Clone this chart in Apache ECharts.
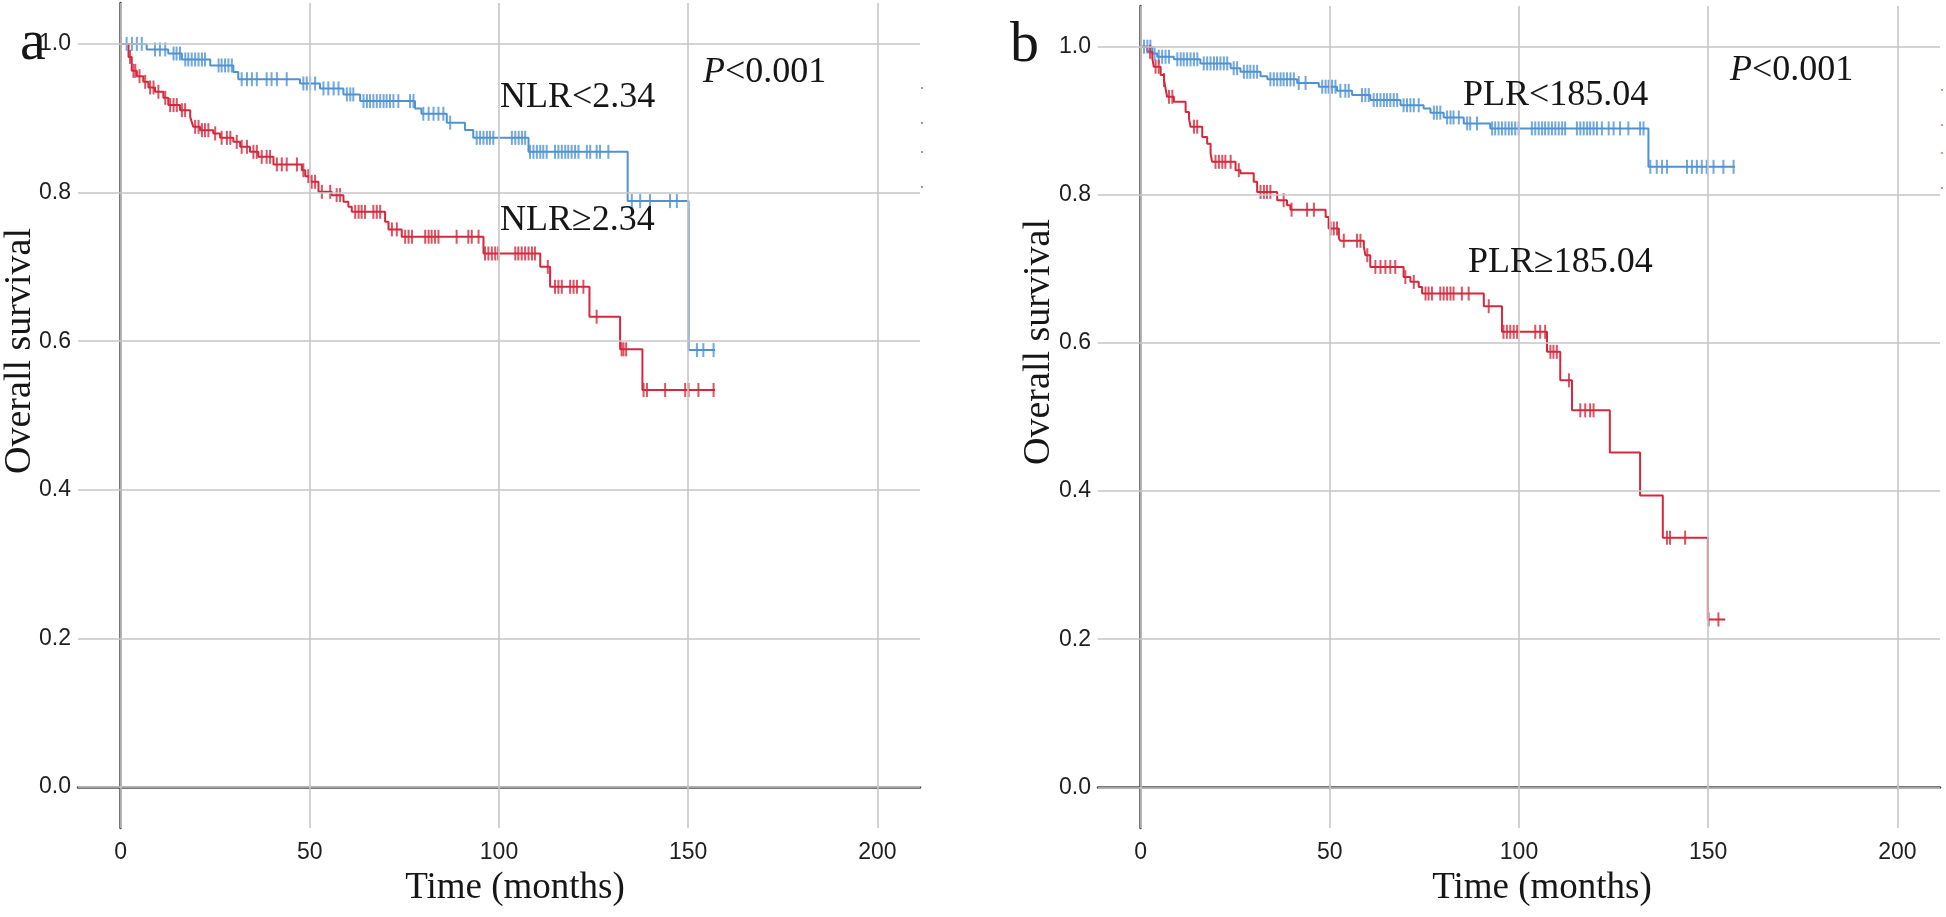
<!DOCTYPE html>
<html><head><meta charset="utf-8">
<script src="https://cdn.jsdelivr.net/npm/echarts@6/dist/echarts.min.js"></script>
<style>html,body{margin:0;padding:0;background:#fff}#c{width:1946px;height:917px}</style>
</head><body><div id="c"></div>
<script>
// ---- tick labels ----
const xTicks = [0, 50, 100, 150, 200];
const yTicks = [0, 0.2, 0.4, 0.6, 0.8, 1.0];

// ---- panel a: NLR < 2.34 (blue) ----
const nlrLowSteps = [[0,1.0],[6.9,0.9925],[12.6,0.987],[16.2,0.979],[23.7,0.971],[29.8,0.962],[31.1,0.9525],[47.4,0.9467],[52.7,0.940],[58.9,0.932],[63.3,0.923],[77.8,0.913],[79.5,0.906],[86.2,0.894],[91.0,0.884],[93.2,0.8736],[107.8,0.8548],[134.0,0.7885],[150.1,0.588],[157.1,0.588]];
const nlrLowCensor = [1.6,3.0,4.3,5.6,9.1,10.4,11.8,14.0,14.8,15.7,17.1,17.9,18.8,19.7,20.6,21.5,22.3,25.9,26.7,27.6,28.5,29.4,32.0,33.4,34.7,36.0,38.6,39.9,41.3,43.9,48.3,49.2,50.1,51.4,53.6,54.9,56.3,57.6,59.8,60.7,61.5,64.2,65.1,65.9,66.8,67.7,68.6,69.5,70.3,71.2,72.1,73.4,76.5,77.4,80.0,81.4,82.7,84.0,85.3,87.1,94.1,95.0,95.9,96.8,97.6,98.5,103.4,104.3,105.2,106.1,106.9,108.2,109.1,110.0,110.9,111.7,112.6,114.8,115.7,116.6,117.5,118.3,119.2,120.1,121.0,123.2,124.1,125.8,126.7,128.9,135.1,137.3,139.9,145.2,147.0,152.3,154.0,156.7];

// ---- panel a: NLR >= 2.34 (red) ----
const nlrHighSteps = [[0,1.0],[2.1,0.9825],[2.95,0.9637],[4.3,0.9566],[6.0,0.9489],[7.35,0.9414],[9.1,0.9355],[11.3,0.9274],[12.6,0.9176],[15.7,0.9108],[18.4,0.9018],[18.8,0.8951],[19.2,0.8884],[21.0,0.8839],[24.5,0.8795],[26.3,0.8736],[29.8,0.8682],[31.6,0.8615],[34.2,0.8548],[36.4,0.848],[40.4,0.8378],[47.9,0.830],[48.8,0.822],[50.1,0.8144],[52.3,0.801],[55.8,0.7965],[58.9,0.7875],[60.2,0.7808],[61.1,0.774],[69.9,0.7606],[70.8,0.7504],[74.3,0.7405],[95.9,0.718],[110.9,0.700],[113.5,0.6732],[123.9,0.6329],[132.0,0.589],[137.9,0.5343],[157.1,0.5343]];
const nlrHighCensor = [2.5,3.4,3.9,5.0,6.5,7.8,8.7,10.0,11.8,13.1,14.0,14.85,16.2,17.05,19.7,20.6,21.5,22.3,23.2,25.0,26.7,28.1,29.0,30.7,32.0,33.4,35.1,36.0,37.3,38.6,39.5,41.3,42.6,43.9,46.6,48.3,49.6,50.5,51.4,53.2,55.4,57.1,58.0,62.0,62.9,63.7,64.6,66.8,67.7,68.6,71.7,73.0,75.2,76.1,77.0,80.5,81.4,82.2,83.1,84.0,88.8,91.9,92.8,94.6,96.3,97.2,98.1,99.0,99.8,104.3,105.1,106.0,106.9,107.8,108.7,109.5,112.9,114.8,115.7,116.6,118.8,119.7,120.6,122.3,125.8,132.4,132.9,133.6,138.2,139.1,143.9,149.2,150.1,152.7,156.7];

// ---- panel b: PLR < 185.04 (blue) ----
const plrLowSteps = [[0,1.0],[3.1,0.991],[4.4,0.9865],[8.8,0.983],[15.8,0.9775],[23.8,0.971],[26.4,0.9662],[31.7,0.960],[33.5,0.956],[41.4,0.951],[47.1,0.946],[51.9,0.9405],[55.9,0.9347],[60.7,0.928],[68.7,0.921],[74.8,0.9167],[76.6,0.911],[80.1,0.9045],[85.4,0.8964],[92.4,0.8897],[134.2,0.8378],[157.1,0.8378]];
const plrLowCensor = [0.9,1.8,2.6,3.7,4.8,5.7,6.6,7.5,9.7,10.6,11.4,12.3,13.2,14.1,15.0,16.7,17.6,18.5,19.4,20.2,21.1,22.0,22.9,24.6,25.5,27.3,28.2,29.0,29.9,30.8,34.3,35.2,36.1,37.0,37.8,38.7,39.6,40.5,41.8,43.6,48.0,48.9,49.7,50.6,51.5,52.8,54.1,55.0,58.5,59.4,60.3,61.6,62.5,63.4,64.3,65.1,66.0,66.9,67.8,69.5,70.4,71.3,72.2,73.5,77.5,78.3,79.2,81.0,81.9,82.7,84.1,86.3,87.1,88.9,92.9,93.7,94.6,95.5,96.4,97.3,98.1,99.0,99.9,103.4,104.3,105.2,106.1,106.9,107.8,108.7,109.6,110.5,111.4,112.2,115.3,116.2,117.1,118.0,118.8,119.7,120.6,121.9,123.7,125.0,126.7,128.9,132.0,132.9,134.7,136.4,137.8,139.1,144.4,145.7,147.0,148.3,149.6,151.4,154.0,156.7];

// ---- panel b: PLR >= 185.04 (red) ----
const plrHighSteps = [[0,1.0],[1.8,0.9932],[3.1,0.9843],[3.5,0.973],[5.3,0.9617],[6.2,0.955],[6.6,0.9437],[7.0,0.9324],[8.8,0.9257],[11.9,0.912],[12.8,0.903],[13.2,0.892],[16.3,0.878],[17.6,0.869],[18.5,0.856],[18.9,0.8446],[25.1,0.8333],[26.4,0.829],[29.9,0.8176],[30.8,0.804],[36.1,0.7928],[38.7,0.786],[39.6,0.780],[48.9,0.770],[49.7,0.7546],[52.4,0.741],[52.8,0.738],[59.0,0.730],[59.4,0.7185],[60.7,0.7027],[69.5,0.689],[71.3,0.6825],[73.5,0.6757],[74.4,0.6667],[90.7,0.6496],[95.5,0.615],[107.4,0.588],[110.9,0.5496],[114.0,0.509],[124.0,0.452],[132.0,0.394],[138.0,0.337],[149.9,0.2266],[154.5,0.2266]];
const plrHighCensor = [2.5,3.96,4.8,6.2,7.5,8.4,14.1,14.96,19.8,20.7,21.6,22.4,23.8,25.96,31.7,32.6,33.4,34.3,37.8,39.9,44.0,45.8,50.2,51.05,51.9,53.7,57.2,58.1,59.9,62.05,63.4,64.7,66.0,67.3,69.97,72.2,75.3,76.1,77.0,79.2,80.1,81.0,81.9,82.7,84.9,86.7,92.0,95.9,96.8,97.7,98.6,99.5,104.3,105.6,106.9,108.3,109.1,110.0,113.2,116.2,117.5,118.8,119.7,139.1,139.9,143.9,150.1,152.7];

const BLUE = '#4f92d3', RED = '#d5283c';
const SERIF = "'Liberation Serif','Times New Roman',serif";
const NARROW = "'Liberation Sans Narrow','Arial Narrow','Liberation Sans',sans-serif";

function survAt(steps, t) {
  let s = steps[0][1];
  for (const p of steps) { if (p[0] <= t) s = p[1]; else break; }
  return s;
}
function censorPts(steps, times) { return times.map(t => [t, survAt(steps, t)]); }

const grids = [
  {left: 78, right: 1946 - 920, top: 3, bottom: 89},
  {left: 1098, right: 6, top: 6, bottom: 89}
];

function xAx(i) {
  return {
    type: 'value', gridIndex: i, min: -11.25, max: 211.25,
    axisLine: {show: true, lineStyle: {color: '#4a4a4a', width: 2.5}},
    axisTick: {show: false}, splitLine: {show: false},
    axisLabel: {customValues: xTicks, margin: 13, fontFamily: NARROW, fontSize: 23, color: '#1e1e1e'}
  };
}
function yAx(i) {
  return {
    type: 'value', gridIndex: i, min: -0.055, max: 1.055,
    axisLine: {show: true, lineStyle: {color: '#4a4a4a', width: 2.5}},
    axisTick: {show: false}, splitLine: {show: false},
    axisLabel: {customValues: yTicks, margin: 7, fontFamily: NARROW, fontSize: 23, color: '#1e1e1e',
      formatter: v => v.toFixed(1)}
  };
}
function gridSeries(i) {
  return {
    type: 'line', xAxisIndex: i, yAxisIndex: i, data: [], silent: true, z: 1,
    markLine: {
      silent: true, symbol: ['none', 'none'], animation: false,
      label: {show: false},
      lineStyle: {color: '#c6c6c6', width: 1.6, type: 'solid'},
      emphasis: {disabled: true},
      data: xTicks.map(v => ({xAxis: v})).concat(yTicks.map(v => ({yAxis: v})))
    }
  };
}
function curve(i, steps, color) {
  return {type: 'line', xAxisIndex: i, yAxisIndex: i, step: 'end', data: steps, showSymbol: false,
    symbol: 'none', lineStyle: {color: color, width: 2}, z: 3, silent: true};
}
function ticks(i, steps, times, color) {
  return {type: 'scatter', xAxisIndex: i, yAxisIndex: i, data: censorPts(steps, times),
    symbol: 'rect', symbolSize: [2, 14], itemStyle: {color: color}, z: 4, silent: true};
}

function txt(x, y, text, size) {
  return {type: 'text', x: x, y: y, silent: true, z: 10,
    style: {text: text, fontFamily: SERIF, fontSize: size, fill: '#161616',
      textAlign: 'left', textVerticalAlign: 'middle', align: 'left', verticalAlign: 'middle'}};
}
function ptxt(x, y) {
  return {type: 'text', x: x, y: y, silent: true, z: 10,
    style: {text: '{i|P}{r|<0.001}', fill: '#161616', fontFamily: SERIF, fontSize: 36,
      textAlign: 'left', textVerticalAlign: 'middle', align: 'left', verticalAlign: 'middle',
      rich: {i: {fontFamily: SERIF, fontSize: 36, fontStyle: 'italic', fill: '#161616'},
             r: {fontFamily: SERIF, fontSize: 36, fill: '#161616'}}}};
}
function ytitle(x, y) {
  return {type: 'text', x: x, y: y, rotation: Math.PI / 2, silent: true, z: 10,
    style: {text: 'Overall survival', fontFamily: SERIF, fontSize: 38, fill: '#161616',
      textAlign: 'center', textVerticalAlign: 'middle', align: 'center', verticalAlign: 'middle'}};
}
function xtitle(x, y) {
  return {type: 'text', x: x, y: y, silent: true, z: 10,
    style: {text: 'Time (months)', fontFamily: SERIF, fontSize: 37, fill: '#161616',
      textAlign: 'center', textVerticalAlign: 'middle', align: 'center', verticalAlign: 'middle'}};
}
function dots(x, ys, color) {
  return ys.map(y => ({type: 'circle', shape: {cx: x, cy: y, r: 1.1}, style: {fill: color}, silent: true}));
}

const chart = echarts.init(document.getElementById('c'), null, {renderer: 'canvas'});
chart.setOption({
  animation: false,
  backgroundColor: '#fff',
  grid: grids,
  xAxis: [xAx(0), xAx(1)],
  yAxis: [yAx(0), yAx(1)],
  series: [
    gridSeries(0), gridSeries(1),
    curve(0, nlrLowSteps, BLUE), curve(0, nlrHighSteps, RED),
    ticks(0, nlrLowSteps, nlrLowCensor, BLUE), ticks(0, nlrHighSteps, nlrHighCensor, RED),
    curve(1, plrLowSteps, BLUE), curve(1, plrHighSteps, RED),
    ticks(1, plrLowSteps, plrLowCensor, BLUE), ticks(1, plrHighSteps, plrHighCensor, RED)
  ],
  graphic: {elements: [
    txt(20, 44, 'a', 58),
    txt(1010, 46, 'b', 58),
    ytitle(20, 351), ytitle(1039, 342),
    xtitle(515, 888), xtitle(1542, 888),
    txt(500, 98, 'NLR<2.34', 36),
    txt(500, 221, 'NLR\u22652.34', 36),
    ptxt(703, 73),
    txt(1463, 96, 'PLR<185.04', 36),
    txt(1468, 263, 'PLR\u2265185.04', 36),
    ptxt(1730, 71)
  ].concat(dots(922, [88, 123, 152, 187], '#888')).concat(dots(1942, [90, 125, 153, 188], '#d77'))}
});
</script>
</body></html>
